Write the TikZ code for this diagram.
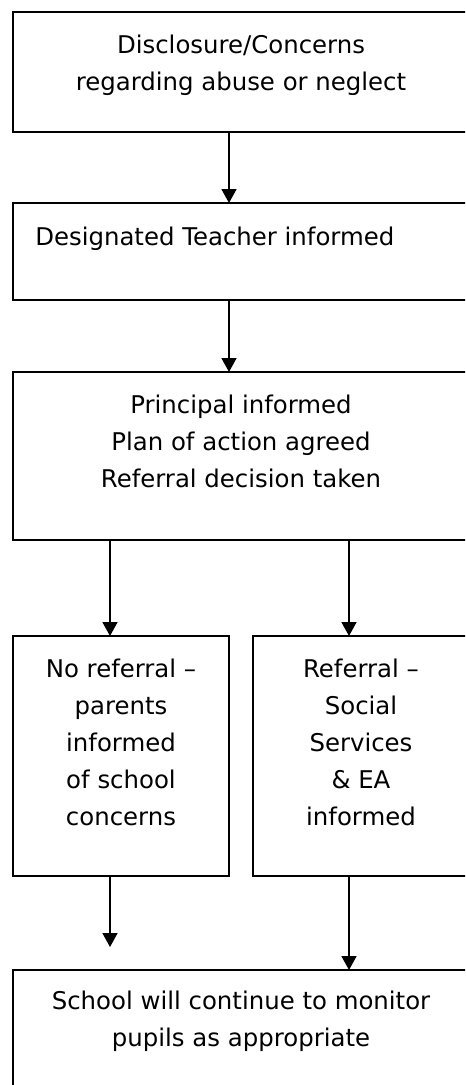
\documentclass[tikz,border=0pt]{standalone}
\usepackage{fontspec}
\setmainfont{DejaVu Sans}
\usetikzlibrary{arrows.meta}
\begin{document}
\begin{tikzpicture}[x=0.75pt,y=-0.75pt,
  box/.style={draw=black, line width=1.3pt, inner sep=0pt, outer sep=0pt, anchor=north west},
  txt/.style={font=\fontsize{18.3}{27.75}\selectfont, align=center, inner sep=0pt, anchor=base},
  arr/.style={-{Triangle[width=11.25pt,length=10.5pt]}, line width=1.3pt}]
\useasboundingbox (0,0) rectangle (465,1085);
\clip (0,0) rectangle (465,1085);
% boxes
\node[box, minimum width=342pt, minimum height=90pt] (b1) at (13,12) {};
\node[box, minimum width=342pt, minimum height=72.75pt] (b2) at (13,203) {};
\node[box, minimum width=342pt, minimum height=126pt] (b3) at (13,372) {};
\node[box, minimum width=162pt, minimum height=180pt] (b4) at (13,636) {};
\node[box, minimum width=162pt, minimum height=180pt] (b5) at (253,636) {};
\node[box, minimum width=342pt, minimum height=112.5pt] (b6) at (13,970) {};
% texts (anchor base = baseline of last line)
\node[txt] (t1) at (241,90) {Disclosure/Concerns\\regarding abuse or neglect};
\node[txt, anchor=base west] (t2) at (35,245) {Designated Teacher informed};
\node[txt] (t3) at (241,487) {Principal informed\\Plan of action agreed\\Referral decision taken};
\node[txt] (t4) at (121,825) {No referral –\\parents\\informed\\of school\\concerns};
\node[txt] (t5) at (361,825) {Referral –\\Social\\Services\\\& EA\\informed};
\node[txt] (t6) at (241,1046) {School will continue to monitor\\pupils as appropriate};
% connectors
\coordinate (e4) at (110,947);
\draw[arr] ([xshift=-9pt]b1.south) -- ([xshift=-9pt]b2.north);
\draw[arr] ([xshift=-9pt]b2.south) -- ([xshift=-9pt]b3.north);
\draw[arr] (b3.south -| b4.south) ++(-8.25pt,0) -- ([xshift=-8.25pt]b4.north);
\draw[arr] (b3.south -| b5.south) ++(-9pt,0) -- ([xshift=-9pt]b5.north);
\draw[arr] ([xshift=-8.25pt]b4.south) -- (e4);
\draw[arr] ([xshift=-9pt]b5.south) -- (b6.north -| 349,0);
\end{tikzpicture}
\end{document}
